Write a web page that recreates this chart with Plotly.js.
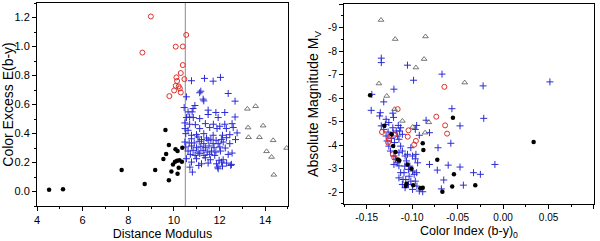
<!DOCTYPE html>
<html>
<head>
<meta charset="utf-8">
<script src="https://cdn.plot.ly/plotly-3.0.1.min.js"></script>
<style>html,body{margin:0;padding:0;background:#fff;}#chart{width:600px;height:241px;}</style>
</head>
<body>
<div id="chart"></div>
<script>
// ---- Left panel: Distance Modulus vs Color Excess E(b-y) ----
var leftRedX = [8.99, 8.62, 10.08, 10.39, 10.54, 10.39, 10.30, 10.11, 10.46, 10.14, 10.08, 10.21, 10.26, 10.01, 10.30, 9.80];
var leftRedY = [1.207, 0.958, 0.999, 1.00, 1.08, 0.872, 0.817, 0.787, 0.775, 0.762, 0.729, 0.725, 0.711, 0.697, 0.683, 0.658];

var leftBlackX = [4.53, 5.14, 7.71, 8.72, 9.18, 9.63, 9.66, 9.54, 9.78, 10.07, 10.16, 10.37, 9.96, 10.05, 10.14, 10.24, 10.35, 9.89, 10.21, 10.16, 9.78];
var leftBlackY = [0.012, 0.016, 0.148, 0.051, 0.148, 0.425, 0.258, 0.224, 0.321, 0.291, 0.279, 0.302, 0.187, 0.205, 0.212, 0.215, 0.205, 0.138, 0.164, 0.122, 0.078];

var leftTriX = [13.22, 13.58, 13.25, 13.91, 13.27, 13.75, 14.35, 14.06, 14.28, 14.94, 14.38];
var leftTriY = [0.570, 0.588, 0.441, 0.454, 0.374, 0.374, 0.353, 0.277, 0.238, 0.300, 0.115];

var leftBlueX = [10.77, 11.34, 11.72, 12.04, 10.55, 11.13, 11.18, 12.38, 11.28, 11.31, 12.68, 10.45, 10.92, 10.84, 10.80, 10.62,
  11.50, 11.84, 12.23, 11.13, 10.69, 10.55, 10.85, 11.50, 11.94, 12.68, 10.48, 10.69, 10.94, 11.38, 11.73, 12.01, 12.23, 12.55,
  10.49, 10.62, 11.13, 11.57, 11.89, 12.30, 12.60, 12.77, 10.52, 10.77, 10.99, 11.31, 11.72, 12.13, 12.45, 10.77, 11.05, 11.21,
  11.43, 11.62, 11.85, 12.08, 12.30, 12.70, 10.48, 10.67, 10.89, 11.11, 11.31, 11.50, 11.72, 11.94, 12.16, 12.45, 10.52, 10.77,
  10.99, 11.18, 11.38, 11.54, 11.76, 12.01, 12.25, 10.62, 10.84, 11.06, 11.28, 11.46, 11.65, 11.84, 12.04, 12.55, 10.72, 10.93,
  11.13, 11.32, 11.57, 11.79, 12.38, 10.55, 10.99, 11.38, 11.60, 11.98, 12.16, 10.77, 11.21, 11.50, 11.87, 12.09, 12.31, 12.52,
  10.70, 11.09, 11.92, 12.13, 10.81, 11.94, 12.49];
var leftBlueY = [0.764, 0.780, 0.761, 0.787, 0.653, 0.681, 0.692, 0.676, 0.637, 0.625, 0.623, 0.579, 0.593, 0.572, 0.549, 0.549,
  0.561, 0.545, 0.545, 0.503, 0.514, 0.510, 0.510, 0.531, 0.510, 0.514, 0.473, 0.464, 0.461, 0.468, 0.464, 0.450, 0.464, 0.468,
  0.434, 0.422, 0.434, 0.441, 0.434, 0.434, 0.441, 0.404, 0.399, 0.388, 0.392, 0.399, 0.388, 0.388, 0.392, 0.364, 0.376, 0.358,
  0.369, 0.360, 0.353, 0.358, 0.371, 0.358, 0.341, 0.335, 0.335, 0.346, 0.330, 0.353, 0.330, 0.330, 0.341, 0.330, 0.307, 0.314,
  0.302, 0.312, 0.302, 0.314, 0.302, 0.307, 0.300, 0.279, 0.284, 0.272, 0.284, 0.272, 0.279, 0.272, 0.279, 0.265, 0.256, 0.249,
  0.261, 0.249, 0.256, 0.249, 0.256, 0.226, 0.226, 0.233, 0.219, 0.215, 0.219, 0.203, 0.191, 0.196, 0.191, 0.203, 0.196, 0.187,
  0.168, 0.180, 0.168, 0.175, 0.134, 0.157, 0.180];

// ---- Right panel: Color Index (b-y)0 vs Absolute Magnitude Mv ----
var rightTriX = [-0.1343, -0.1187, -0.0854, -0.0869, -0.0959, -0.1366, -0.1280, -0.0422, -0.1194, -0.1108, -0.0996, -0.0817, -0.0858];
var rightTriY = [-9.32, -8.51, -8.62, -7.66, -7.30, -6.62, -6.09, -6.66, -5.53, -5.03, -4.77, -4.97, -4.53];

var rightRedX = [-0.0646, -0.1160, -0.0735, -0.0638, -0.0616, -0.1041, -0.1049, -0.0959, -0.0978, -0.1332, -0.1257, -0.1243, -0.1194, -0.1213, -0.1198, -0.1265];
var rightRedY = [-6.48, -5.53, -5.21, -4.84, -4.49, -4.63, -4.36, -4.18, -4.02, -4.56, -4.25, -4.39, -4.43, -3.61, -3.47, -4.11];

var rightBlackX = [-0.1463, -0.1306, -0.1228, -0.1209, -0.1183, -0.1157, -0.1142, -0.1052, -0.1007, -0.1063, -0.1071, -0.0989,
  -0.0910, -0.0884, -0.0884, -0.0877, -0.0724, -0.0552, -0.0541, -0.0560, -0.0668, -0.0306, 0.0336];
var rightBlackY = [-6.12, -4.82, -4.46, -3.96, -3.71, -3.39, -3.35, -3.18, -3.00, -2.36, -2.26, -2.30,
  -2.17, -2.19, -4.08, -3.79, -3.38, -5.17, -2.76, -2.24, -2.02, -2.30, -4.13];

var rightBlueX = [-0.1340, -0.1340, -0.1052, -0.0985, -0.0672, -0.0220, 0.0515, -0.1201, -0.1444, -0.1313, -0.1451, -0.1351,
  -0.1358, -0.1213, -0.1287, -0.1205, -0.1153, -0.1127, -0.0966, -0.0847, -0.0810, -0.0563, -0.0474, -0.0213, -0.0575, -0.0716,
  -0.0966, -0.0940, -0.0810, -0.0724, -0.0604, -0.0474, -0.0325, -0.0250, -0.0090, -0.0653, -0.0437, -0.0679, -0.0884, -0.0948,
  -0.1034, -0.1090, -0.1146, -0.1183, -0.1201, -0.1239, -0.1257, -0.1276, -0.1287, -0.1265, -0.1313, -0.1213, -0.1175, -0.1146,
  -0.1127, -0.1108, -0.1078, -0.1063, -0.1026, -0.0996, -0.0978, -0.1015, -0.1041, -0.1101, -0.1127, -0.1146, -0.1078, -0.0996,
  -0.0922, -0.1052, -0.0996, -0.0959, -0.1146, -0.1194, -0.1228, -0.1108, -0.1138, -0.1295, -0.1257, -0.1340, -0.0951, -0.0922,
  -0.1015, -0.1082, -0.1041, -0.1164, -0.1201, -0.1071, -0.0966, -0.1108, -0.0951, -0.1160, -0.1209];
var rightBlueY = [-7.70, -7.51, -7.40, -6.76, -7.02, -6.52, -6.69, -6.38, -6.16, -5.84, -5.48, -5.38,
  -5.24, -5.36, -5.10, -5.18, -4.84, -4.74, -4.67, -5.06, -4.53, -5.55, -4.82, -5.14, -4.08, -3.89,
  -3.42, -3.25, -3.18, -2.94, -3.15, -3.07, -2.83, -2.76, -3.18, -2.52, -2.30, -2.14, -2.02, -2.26,
  -2.68, -2.83, -3.12, -3.40, -3.54, -3.75, -3.96, -4.18, -4.39, -4.56, -4.67, -4.74, -4.60, -4.25,
  -3.96, -3.75, -3.54, -3.33, -3.11, -2.90, -2.76, -2.47, -2.33, -2.54, -2.83, -2.61, -2.19, -2.12,
  -2.05, -3.61, -3.54, -3.61, -3.68, -4.11, -4.28, -4.46, -4.60, -4.88, -4.96, -4.82, -4.84, -4.42,
  -3.89, -3.11, -2.97, -3.25, -3.18, -2.54, -2.47, -2.33, -2.83, -4.39, -4.53];

// tick labels
var leftXTicks = [4, 6, 8, 10, 12, 14];
var leftYTicks = [0.0, 0.2, 0.4, 0.6, 0.8, 1.0, 1.2];
var rightXTickVals = [-0.15, -0.10, -0.05, 0.00, 0.05, 0.10];
var rightXTickText = ['-0.15', '-0.10', '-0.05', '0.00', '0.05', '0.10'];
var rightYTickVals = [-10, -9, -8, -7, -6, -5, -4, -3, -2];
var rightYTickText = ['-10', '-9', '-8', '-7', '-6', '-5', '-4', '-3', '-2'];
var dividerX = 10.5;

var BLUE = '#2b2bd6', RED = '#e0302a', TRI = '#555555';
var blueM = {symbol: 'cross-thin-open', size: 5, line: {color: BLUE, width: 1}, color: BLUE};
var redM = {symbol: 'circle-open', size: 5, line: {color: RED, width: 1}, color: RED};
var blackM = {symbol: 'circle', size: 4.5, color: '#000', line: {width: 0}};
var triM = {symbol: 'triangle-up-open', size: 5, line: {color: TRI, width: 0.8}, color: TRI};

var data = [
  {x: leftBlueX, y: leftBlueY, type: 'scatter', mode: 'markers', marker: blueM, xaxis: 'x', yaxis: 'y'},
  {x: leftTriX, y: leftTriY, type: 'scatter', mode: 'markers', marker: triM, xaxis: 'x', yaxis: 'y'},
  {x: leftRedX, y: leftRedY, type: 'scatter', mode: 'markers', marker: redM, xaxis: 'x', yaxis: 'y'},
  {x: leftBlackX, y: leftBlackY, type: 'scatter', mode: 'markers', marker: blackM, xaxis: 'x', yaxis: 'y'},
  {x: rightBlueX, y: rightBlueY, type: 'scatter', mode: 'markers', marker: blueM, xaxis: 'x2', yaxis: 'y2'},
  {x: rightTriX, y: rightTriY, type: 'scatter', mode: 'markers', marker: triM, xaxis: 'x2', yaxis: 'y2'},
  {x: rightRedX, y: rightRedY, type: 'scatter', mode: 'markers', marker: redM, xaxis: 'x2', yaxis: 'y2'},
  {x: rightBlackX, y: rightBlackY, type: 'scatter', mode: 'markers', marker: blackM, xaxis: 'x2', yaxis: 'y2'}
];

var FONT = 'Liberation Sans, Arial, sans-serif';
var axBase = {
  showgrid: false, zeroline: false, showline: true, linecolor: '#000', linewidth: 1, mirror: true,
  ticks: 'outside', ticklen: 4, tickwidth: 1, tickcolor: '#000',
  tickfont: {family: FONT, size: 11, color: '#000'},
  minor: {ticks: 'outside', ticklen: 2, tickwidth: 1, tickcolor: '#000'}
};
function ax(o) { var r = JSON.parse(JSON.stringify(axBase)); for (var k in o) r[k] = o[k]; return r; }

var layout = {
  width: 600, height: 241,
  margin: {l: 37, r: 6, t: 3, b: 35},
  paper_bgcolor: '#fff', plot_bgcolor: '#fff',
  showlegend: false,
  font: {family: FONT, color: '#000'},
  xaxis: ax({domain: [0, 0.4506], range: [4, 15], tickvals: leftXTicks,
    minor: {ticks: 'outside', ticklen: 2, tickwidth: 1, tickcolor: '#000', dtick: 1},
    title: {text: 'Distance Modulus', font: {family: FONT, size: 12.5, color: '#000'}, standoff: 4}, anchor: 'y'}),
  yaxis: ax({domain: [0, 1], range: [-0.1, 1.3], tickvals: leftYTicks, tickformat: '.1f',
    minor: {ticks: 'outside', ticklen: 2, tickwidth: 1, tickcolor: '#000', dtick: 0.1},
    title: {text: 'Color Excess E(b-y)', font: {family: FONT, size: 14, color: '#000'}, standoff: 6}, anchor: 'x'}),
  xaxis2: ax({domain: [0.5512, 1], range: [-0.175, 0.10], tickvals: rightXTickVals, ticktext: rightXTickText,
    minor: {ticks: 'outside', ticklen: 2, tickwidth: 1, tickcolor: '#000', dtick: 0.025},
    tickfont: {family: FONT, size: 10, color: '#000'},
    title: {text: 'Color Index (b-y)<sub>0</sub>', font: {family: FONT, size: 12.5, color: '#000'}, standoff: 4}, anchor: 'y2'}),
  yaxis2: ax({domain: [0.01, 0.995], range: [-1.5, -10], tickvals: rightYTickVals, ticktext: rightYTickText,
    minor: {ticks: 'outside', ticklen: 2, tickwidth: 1, tickcolor: '#000', dtick: 0.5},
    tickfont: {family: FONT, size: 10, color: '#000'},
    title: {text: 'Absolute Magnitude M<sub>V</sub>', font: {family: FONT, size: 14, color: '#000'}, standoff: 6}, anchor: 'x2'}),
  shapes: [
    {type: 'line', xref: 'x', yref: 'y domain', x0: dividerX, x1: dividerX, y0: 0, y1: 1,
     line: {color: '#8a8a8a', width: 1}, layer: 'below'}
  ]
};

Plotly.newPlot('chart', data, layout, {staticPlot: true, displayModeBar: false});
</script>
</body>
</html>
